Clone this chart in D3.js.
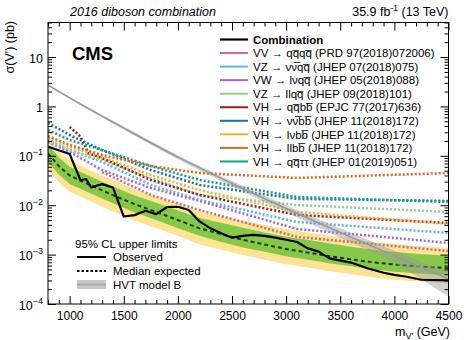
<!DOCTYPE html>
<html>
<head>
<meta charset="utf-8">
<script src="https://cdn.jsdelivr.net/npm/d3@7"></script>
<style>
  body { margin: 0; background: white; }
  svg { display: block; font-family: "Liberation Sans", Arial, sans-serif; }
</style>
</head>
<body>
<div id="chart"></div>
<script>
// Beobachtetes Limit (Kombination)
const obsMass = [800, 1000, 1100, 1150, 1200, 1300, 1400, 1500, 1600, 1700, 1800, 1900, 2000, 2100, 2200, 2300, 2400, 2500, 2600, 2700, 2800, 2900, 3000, 3100, 3200, 3300, 3400, 3600, 3750, 3900, 4000, 4100, 4250, 4500];
const obsVal = [0.153, 0.109, 0.032, 0.034, 0.023, 0.0267, 0.0229, 0.0059, 0.0063, 0.0077, 0.0066, 0.0092, 0.0093, 0.0080, 0.0047, 0.0034, 0.0027, 0.0022, 0.0024, 0.0025, 0.0024, 0.0022, 0.0020, 0.0018, 0.00134, 0.00115, 0.00084, 0.00069, 0.00053, 0.00043, 0.00039, 0.00036, 0.00031, 0.00030];

// Erwartetes Limit mit 1 und 2 sigma Baendern
const expMass = [800, 900, 1000, 1200, 1400, 1600, 1800, 2000, 2200, 2400, 2600, 2800, 3000, 3200, 3400, 3600, 3800, 4000, 4200, 4500];
const expVal = [0.112, 0.062, 0.040, 0.025, 0.016, 0.0105, 0.0073, 0.0050, 0.0034, 0.0026, 0.0020, 0.0016, 0.0013, 0.0011, 0.00093, 0.00080, 0.00070, 0.00063, 0.00058, 0.00053];
const exp1Lo = [0.076, 0.042, 0.027, 0.017, 0.0109, 0.0071, 0.0050, 0.0034, 0.0024, 0.0018, 0.0014, 0.00114, 0.00093, 0.00079, 0.00067, 0.00058, 0.00050, 0.00045, 0.00042, 0.00038];
const exp1Hi = [0.168, 0.093, 0.060, 0.0375, 0.024, 0.0158, 0.0112, 0.0078, 0.0055, 0.0044, 0.0035, 0.0028, 0.0023, 0.0020, 0.00167, 0.00144, 0.00126, 0.00113, 0.00104, 0.00095];
const exp2Lo = [0.053, 0.029, 0.019, 0.0118, 0.0075, 0.0049, 0.0034, 0.0024, 0.0016, 0.00125, 0.00098, 0.00079, 0.00064, 0.00055, 0.00046, 0.00040, 0.00035, 0.00031, 0.00029, 0.00026];
const exp2Hi = [0.224, 0.124, 0.080, 0.050, 0.032, 0.021, 0.0148, 0.0105, 0.0075, 0.0060, 0.0048, 0.0040, 0.0033, 0.0028, 0.0024, 0.0021, 0.0018, 0.00164, 0.0015, 0.00138];

// HVT Modell B
const hvtMass = [800, 1000, 1500, 2000, 2500, 3000, 3500, 4000, 4500];
const hvtVal = [2.7, 1.49, 0.364, 0.094, 0.0276, 0.0086, 0.0028, 0.00095, 0.00032];
const hvtLo = [2.6, 1.42, 0.34, 0.085, 0.024, 0.0072, 0.0022, 0.00068, 0.00014];
const hvtHi = [2.8, 1.56, 0.39, 0.103, 0.031, 0.0100, 0.0034, 0.00120, 0.00043];

// Einzelne Kanaele (erwartete Limits, gepunktet)
const chMass = [800, 1000, 1300, 1750, 2200, 3100, 4500];
const chVVqqqq = [null, null, 0.047, 0.0161, 0.0080, 0.00228, 0.00118];
const chVZnnqq = [0.209, 0.131, 0.075, 0.0257, 0.0128, 0.00457, 0.00274];
const chVWlnqq = [0.19, 0.12, 0.0516, 0.0223, 0.0122, 0.0033, 0.00172];
const chVZllqq = [0.2, 0.131, 0.0824, 0.0356, 0.0161, 0.0101, 0.0073];
const chVHnnbb = [0.462, 0.264, 0.131, 0.0516, 0.0257, 0.0134, 0.0122];
const chVHlnbb = [0.230, 0.151, 0.0947, 0.0409, 0.0203, 0.0073, 0.00417];
const chVHllbb = [0.252, 0.166, 0.104, 0.0622, 0.0449, 0.0356, 0.0449];
const chVHqqtt = [0.333, 0.209, 0.131, 0.0622, 0.0324, 0.0147, 0.0116];
const qqbbMass = [1000, 1100, 1175, 1300, 1750, 2200, 3100, 4500];
const chVHqqbb = [0.384, 0.244, 0.112, 0.09, 0.0324, 0.0161, 0.00634, 0.00436];

const xTicks = [1000, 1500, 2000, 2500, 3000, 3500, 4000, 4500];
const yTicks = [1e-4, 1e-3, 1e-2, 1e-1, 1, 10];
const yTickLabels = [["10", "\u22124"], ["10", "\u22123"], ["10", "\u22122"], ["10", "\u22121"], ["1", ""], ["10", ""]];

const channels = [
  { name: "VV \u2192 qq\u0305qq\u0305 (PRD 97(2018)072006)", color: "#c86a8a", mass: chMass, val: chVVqqqq },
  { name: "VZ \u2192 \u03bd\u03bd\u0305qq\u0305 (JHEP 07(2018)075)", color: "#5ab4e0", mass: chMass, val: chVZnnqq },
  { name: "VW \u2192 l\u03bdqq\u0305 (JHEP 05(2018)088)", color: "#9966ee", mass: chMass, val: chVWlnqq },
  { name: "VZ \u2192 llqq\u0305 (JHEP 09(2018)101)", color: "#8fd08f", mass: chMass, val: chVZllqq },
  { name: "VH \u2192 qq\u0305bb\u0305 (EPJC 77(2017)636)", color: "#a31818", mass: qqbbMass, val: chVHqqbb },
  { name: "VH \u2192 \u03bd\u03bd\u0305bb\u0305 (JHEP 11(2018)172)", color: "#1f6fae", mass: chMass, val: chVHnnbb },
  { name: "VH \u2192 l\u03bdbb\u0305 (JHEP 11(2018)172)", color: "#e8b432", mass: chMass, val: chVHlnbb },
  { name: "VH \u2192 llbb\u0305 (JHEP 11(2018)172)", color: "#e0661e", mass: chMass, val: chVHllbb },
  { name: "VH \u2192 qq\u0305\u03c4\u03c4 (JHEP 01(2019)051)", color: "#14a07c", mass: chMass, val: chVHqqtt }
];

const width = 474, height = 340;
const pLeft = 48, pRight = 448.5, pTop = 22.5, pBottom = 304;

const svg = d3.select("#chart")
  .append("svg")
  .attr("width", width)
  .attr("height", height);

const x = d3.scaleLinear().domain([800, 4500]).range([pLeft, pRight]);
const y = d3.scaleLog().domain([1e-4, 50]).range([pBottom, pTop]);

svg.append("clipPath").attr("id", "plotclip")
  .append("rect")
  .attr("x", pLeft).attr("y", pTop)
  .attr("width", pRight - pLeft).attr("height", pBottom - pTop);

const plot = svg.append("g").attr("clip-path", "url(#plotclip)");

// Hilfsfunktion: Arrays zu Punkten
const rows = (mass, ...cols) => mass.map((m, i) => ({ m: m, v: cols.map(c => c[i]) }));

const band = (mass, lo, hi) => d3.area()
  .x(d => x(d.m))
  .y0(d => y(d.v[0]))
  .y1(d => y(d.v[1]))(rows(mass, lo, hi));

const line = d3.line()
  .defined(d => d.v[0] != null)
  .x(d => x(d.m))
  .y(d => y(d.v[0]));

// 2 sigma und 1 sigma Band
plot.append("path").attr("d", band(expMass, exp2Lo, exp2Hi)).attr("fill", "#fce492");
plot.append("path").attr("d", band(expMass, exp1Lo, exp1Hi)).attr("fill", "#86c94a");

// Median erwartet
plot.append("path")
  .attr("d", line(rows(expMass, expVal)))
  .attr("fill", "none")
  .attr("stroke", "#1e3d16")
  .attr("stroke-width", 2)
  .attr("stroke-dasharray", "4,3");

// Kanaele gepunktet
plot.selectAll(".chan")
  .data(channels)
  .join("path")
  .attr("class", "chan")
  .attr("d", c => line(rows(c.mass, c.val)))
  .attr("fill", "none")
  .attr("stroke", c => c.color)
  .attr("stroke-width", 2.5)
  .attr("stroke-dasharray", "2,2");

// HVT Band + Linie
plot.append("path")
  .attr("d", d3.area().curve(d3.curveMonotoneX)
    .x(d => x(d.m)).y0(d => y(d.v[0])).y1(d => y(d.v[1]))(rows(hvtMass, hvtLo, hvtHi)))
  .attr("fill", "#9a9a9a")
  .attr("fill-opacity", 0.45);
plot.append("path")
  .attr("d", line.curve(d3.curveMonotoneX)(rows(hvtMass, hvtVal)))
  .attr("fill", "none")
  .attr("stroke", "#999")
  .attr("stroke-width", 1.6);
line.curve(d3.curveLinear);

// Beobachtet
plot.append("path")
  .attr("d", line(rows(obsMass, obsVal)))
  .attr("fill", "none")
  .attr("stroke", "black")
  .attr("stroke-width", 2.2)
  .attr("stroke-linejoin", "round");

// Achsen (Ticks nach innen wie bei ROOT)
const xMinor = d3.range(800, 4501, 100).filter(v => v % 500 !== 0);
const yMinor = [];
for (let e = -4; e <= 1; e++) {
  for (let k = 2; k <= 9; k++) {
    const v = k * Math.pow(10, e);
    if (v <= 50) yMinor.push(v);
  }
}

const styleAxis = g => {
  g.select(".domain").remove();
  g.selectAll("line").attr("stroke", "black").attr("stroke-width", 1);
};

svg.append("g").attr("transform", `translate(0,${pBottom})`)
  .call(d3.axisBottom(x).tickValues(xMinor).tickSize(-4).tickFormat(""))
  .call(styleAxis);
svg.append("g").attr("transform", `translate(0,${pTop})`)
  .call(d3.axisTop(x).tickValues(xMinor).tickSize(-4).tickFormat(""))
  .call(styleAxis);
svg.append("g").attr("transform", `translate(0,${pTop})`)
  .call(d3.axisTop(x).tickValues(xTicks).tickSize(-8).tickFormat(""))
  .call(styleAxis);

const xAxis = svg.append("g").attr("transform", `translate(0,${pBottom})`)
  .call(d3.axisBottom(x).tickValues(xTicks).tickSize(-8).tickPadding(7).tickFormat(d3.format("d")))
  .call(styleAxis);
xAxis.selectAll("text")
  .attr("fill", "black")
  .style("font-size", "12px")
  .style("font-family", "Liberation Sans, Arial, sans-serif");

svg.append("g").attr("transform", `translate(${pLeft},0)`)
  .call(d3.axisLeft(y).tickValues(yMinor).tickSize(-4).tickFormat(""))
  .call(styleAxis);
svg.append("g").attr("transform", `translate(${pRight},0)`)
  .call(d3.axisRight(y).tickValues(yMinor).tickSize(-4).tickFormat(""))
  .call(styleAxis);
svg.append("g").attr("transform", `translate(${pRight},0)`)
  .call(d3.axisRight(y).tickValues(yTicks).tickSize(-8).tickFormat(""))
  .call(styleAxis);

const yAxis = svg.append("g").attr("transform", `translate(${pLeft},0)`)
  .call(d3.axisLeft(y).tickValues(yTicks).tickSize(-8).tickFormat(""))
  .call(styleAxis);
yAxis.selectAll(".tick").each(function (d, i) {
  const t = d3.select(this).append("text")
    .attr("x", -5)
    .attr("y", 5)
    .attr("text-anchor", "end")
    .attr("fill", "black")
    .style("font-size", "12.5px");
  t.append("tspan").text(yTickLabels[i][0]);
  if (yTickLabels[i][1]) {
    t.append("tspan").attr("dy", -6).style("font-size", "9px").text(yTickLabels[i][1]);
  }
});

// Rahmen
svg.append("rect")
  .attr("x", pLeft).attr("y", pTop)
  .attr("width", pRight - pLeft).attr("height", pBottom - pTop)
  .attr("fill", "none")
  .attr("stroke", "black")
  .attr("stroke-width", 1);

// Achsentitel
const xt = svg.append("text")
  .attr("x", 450).attr("y", 336)
  .attr("text-anchor", "end")
  .style("font-size", "12.5px");
xt.append("tspan").text("m");
xt.append("tspan").attr("dy", 3).style("font-size", "9px").text("V'");
xt.append("tspan").attr("dy", -3).text(" (GeV)");

svg.append("text")
  .attr("transform", "translate(14,21) rotate(-90)")
  .attr("text-anchor", "end")
  .style("font-size", "12.5px")
  .text("\u03c3(V') (pb)");

// Kopfzeile
svg.append("text")
  .attr("x", 70).attr("y", 16)
  .style("font-size", "12.5px")
  .style("font-style", "italic")
  .text("2016 diboson combination");

const lumi = svg.append("text")
  .attr("x", pRight).attr("y", 16)
  .attr("text-anchor", "end")
  .style("font-size", "12.5px");
lumi.append("tspan").text("35.9 fb");
lumi.append("tspan").attr("dy", -5).style("font-size", "8.5px").text("-1");
lumi.append("tspan").attr("dy", 5).text(" (13 TeV)");

svg.append("text")
  .attr("x", 72).attr("y", 60)
  .style("font-size", "18.5px")
  .style("font-weight", "bold")
  .text("CMS");

// Legende oben rechts
const legTop = svg.append("g");
const legRows = [{ name: "Combination", color: "black", bold: true }].concat(channels);
const legItem = legTop.selectAll("g")
  .data(legRows)
  .join("g")
  .attr("transform", (d, i) => `translate(0, ${39.5 + i * 13.55})`);
legItem.append("line")
  .attr("x1", 220).attr("x2", 248)
  .attr("stroke", d => d.color)
  .attr("stroke-width", d => d.bold ? 2.2 : 2);
legItem.append("text")
  .attr("x", 253).attr("y", 4.2)
  .style("font-size", "11.5px")
  .style("font-weight", d => d.bold ? "bold" : "normal")
  .text(d => d.name);

// Legende unten links
svg.append("text")
  .attr("x", 75).attr("y", 247.5)
  .style("font-size", "11.5px")
  .text("95% CL upper limits");
const legBot = [
  { label: "Observed", y: 257, kind: "obs" },
  { label: "Median expected", y: 271, kind: "exp" },
  { label: "HVT model B", y: 284.5, kind: "hvt" }
];
const lb = svg.selectAll(".legbot")
  .data(legBot)
  .join("g")
  .attr("class", "legbot")
  .attr("transform", d => `translate(0, ${d.y})`);
lb.filter(d => d.kind === "hvt").append("rect")
  .attr("x", 77).attr("y", -4.5).attr("width", 29).attr("height", 9)
  .attr("fill", "#c8c8c8");
lb.append("line")
  .attr("x1", 77).attr("x2", 106)
  .attr("stroke", d => d.kind === "hvt" ? "#aaa" : "black")
  .attr("stroke-width", 2)
  .attr("stroke-dasharray", d => d.kind === "exp" ? "2.5,2" : null);
lb.append("text")
  .attr("x", 113).attr("y", 4.2)
  .style("font-size", "11.5px")
  .text(d => d.label);
</script>
</body>
</html>
